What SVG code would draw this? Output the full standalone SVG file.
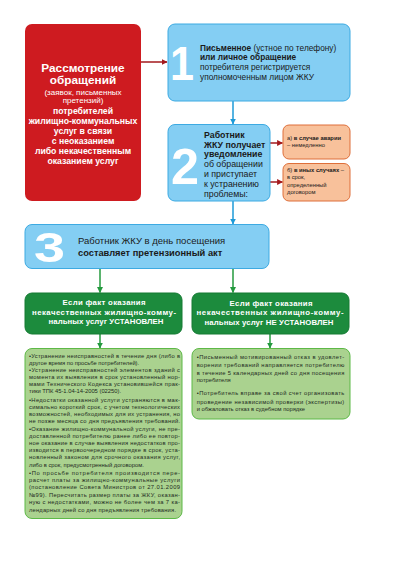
<svg xmlns="http://www.w3.org/2000/svg" width="403" height="570" viewBox="0 0 403 570">
<style>
text{font-family:"Liberation Sans",Arial,sans-serif}
.b{font-weight:bold}
.red{fill:#CE1B20}
.blue{fill:#84CEF3;stroke:#3DAAE2;stroke-width:1}
.org{fill:#F8C19B;stroke:#DE6F3A;stroke-width:1}
.dg{fill:#1C8B3D;stroke:#147A33;stroke-width:1}
.lg{fill:#AAD28F;stroke:#5DB947;stroke-width:1}
.num{fill:#fff;font-weight:bold}
.w{fill:#fff}
.t{fill:#1a1a1a}
.body{fill:#1e2a1e;font-size:5.8px}
.cb{stroke:#1E9AD7;stroke-width:1.5;fill:none}
.cr{stroke:#A3191D;stroke-width:1.5;fill:none}
.cg{stroke:#249A3E;stroke-width:1.5;fill:none}
</style>
<defs>
<marker id="ab" viewBox="0 0 10 10" refX="9" refY="5" markerWidth="4" markerHeight="4" orient="auto" markerUnits="strokeWidth"><path d="M0,0L10,5L0,10z" fill="#1E9AD7"/></marker>
<marker id="ar" viewBox="0 0 10 10" refX="9" refY="5" markerWidth="4" markerHeight="4" orient="auto" markerUnits="strokeWidth"><path d="M0,0L10,5L0,10z" fill="#A3191D"/></marker>
<marker id="ag" viewBox="0 0 10 10" refX="9" refY="5" markerWidth="4" markerHeight="4" orient="auto" markerUnits="strokeWidth"><path d="M0,0L10,5L0,10z" fill="#249A3E"/></marker>
</defs>
<rect width="403" height="570" fill="#fff"/>

<g id="connectors">
<path class="cr" d="M141,62H167" marker-end="url(#ar)"/>
<path class="cb" d="M233,101V124" marker-end="url(#ab)"/>
<path class="cr" d="M270,143H282.5" marker-end="url(#ar)"/>
<path class="cr" d="M270,182H282.5" marker-end="url(#ar)"/>
<path class="cb" d="M233,201V224" marker-end="url(#ab)"/>
<path class="cg" d="M100,268V292.5" marker-end="url(#ag)"/>
<path class="cg" d="M233,268V292.5" marker-end="url(#ag)"/>
<path class="cg" d="M100,334V348" marker-end="url(#ag)"/>
<path class="cg" d="M270,334V348" marker-end="url(#ag)"/>
</g>

<g id="node-review">
<rect class="red" x="25" y="24" width="116" height="177" rx="7"/>
<g class="w" text-anchor="middle">
<text x="83" y="71.5" class="b" font-size="11.8">Рассмотрение</text>
<text x="83" y="84" class="b" font-size="11.8">обращений</text>
<text x="83" y="94.8" font-size="8">(заявок, письменных</text>
<text x="83" y="103.3" font-size="8">претензий)</text>
<text x="83" y="114" class="b" font-size="8.7">потребителей</text>
<text x="83" y="124" class="b" font-size="8.7">жилищно-коммунальных</text>
<text x="83" y="134" class="b" font-size="8.7">услуг в связи</text>
<text x="83" y="144" class="b" font-size="8.7">с неоказанием</text>
<text x="83" y="154" class="b" font-size="8.7">либо некачественным</text>
<text x="83" y="164" class="b" font-size="8.7">оказанием услуг</text>
</g>
</g>

<g id="node-step1">
<rect class="blue" x="168" y="24" width="182" height="77" rx="7"/>
<text class="num" x="170" y="80" font-size="48" textLength="24" lengthAdjust="spacingAndGlyphs">1</text>
<g class="t" font-size="8.3">
<text x="200" y="50.6"><tspan class="b">Письменное</tspan> (устное по телефону)</text>
<text x="200" y="60.2" class="b">или личное обращение</text>
<text x="200" y="69.9">потребителя регистрируется</text>
<text x="200" y="79.6">уполномоченным лицом ЖКУ</text>
</g>
</g>

<g id="node-step2">
<rect class="blue" x="168" y="124.5" width="102" height="76.5" rx="7"/>
<text class="num" x="171" y="183.5" font-size="50" textLength="28" lengthAdjust="spacingAndGlyphs">2</text>
<g class="t" font-size="8.8">
<text x="204" y="138" class="b">Работник</text>
<text x="204" y="147.5" class="b">ЖКУ получает</text>
<text x="204" y="157.3" class="b">уведомление</text>
<text x="204" y="167.3">об обращении</text>
<text x="204" y="177.3">и приступает</text>
<text x="204" y="187.3">к устранению</text>
<text x="204" y="197">проблемы:</text>
</g>
</g>

<g id="node-case-a">
<rect class="org" x="283" y="125" width="67" height="34" rx="6"/>
<g class="t" font-size="5.8">
<text x="287" y="140.3">а) <tspan class="b">в случае аварии</tspan></text>
<text x="287" y="147.3">– немедленно</text>
</g>
</g>

<g id="node-case-b">
<rect class="org" x="283" y="163.5" width="67" height="37.5" rx="6"/>
<g class="t" font-size="5.8">
<text x="287" y="172">б) <tspan class="b">в иных случаях</tspan> –</text>
<text x="287" y="179.3">в срок,</text>
<text x="287" y="187">определенный</text>
<text x="287" y="193.7">договором</text>
</g>
</g>

<g id="node-step3">
<rect class="blue" x="25" y="224.5" width="244" height="44" rx="7"/>
<text class="num" x="34" y="262" font-size="42" textLength="31" lengthAdjust="spacingAndGlyphs">3</text>
<g class="t" font-size="9.5">
<text x="78" y="244.3">Работник ЖКУ в день посещения</text>
<text x="78" y="256" class="b" font-size="9.3">составляет претензионный акт</text>
</g>
</g>

<g id="node-established">
<rect class="dg" x="25" y="293" width="157" height="41" rx="7"/>
<g class="w b" font-size="7.8" text-anchor="middle">
<text x="104" y="305" textLength="83">Если факт оказания</text>
<text x="104" y="314.5" textLength="144">некачественных жилищно-комму-</text>
<text x="106" y="324" textLength="115">нальных услуг УСТАНОВЛЕН</text>
</g>
</g>

<g id="node-not-established">
<rect class="dg" x="192" y="293" width="157" height="41" rx="7"/>
<g class="w b" font-size="7.8" text-anchor="middle">
<text x="271" y="305.5" textLength="83">Если факт оказания</text>
<text x="270" y="314.8" textLength="147">некачественных жилищно-комму-</text>
<text x="269" y="324.5" textLength="129">нальных услуг НЕ УСТАНОВЛЕН</text>
</g>
</g>

<g id="node-actions-established">
<rect class="lg" x="25" y="348.5" width="157" height="170" rx="7"/>
<g class="body">
<text x="29" y="358" textLength="151" lengthAdjust="spacing">•Устранение неисправностей в течение дня (либо в</text>
<text x="29" y="365.3">другое время по просьбе потребителей).</text>
<text x="29" y="372" textLength="151" lengthAdjust="spacing">•Устранение неисправностей элементов зданий с</text>
<text x="29" y="379" textLength="151" lengthAdjust="spacing">момента их выявления в срок установленный нор-</text>
<text x="29" y="386" textLength="151" lengthAdjust="spacing">мами Технического Кодекса установившейся прак-</text>
<text x="29" y="393">тики ТПК 45-1.04-14-2005 (02250).</text>
<text x="29" y="401.5" textLength="151" lengthAdjust="spacing">•Недостатки оказанной услуги устраняются в мак-</text>
<text x="29" y="409" textLength="151" lengthAdjust="spacing">симально короткий срок, с учетом технологических</text>
<text x="29" y="416" textLength="151" lengthAdjust="spacing">возможностей, необходимых для их устранения, но</text>
<text x="29" y="423" textLength="151" lengthAdjust="spacing">не позже месяца со дня предъявления требований.</text>
<text x="29" y="430.7" textLength="151" lengthAdjust="spacing">•Оказание жилищно-коммунальной услуги, не пре-</text>
<text x="29" y="438" textLength="151" lengthAdjust="spacing">доставленной потребителю ранее либо ее повтор-</text>
<text x="29" y="445" textLength="151" lengthAdjust="spacing">ное оказание в случае выявления недостатков про-</text>
<text x="29" y="452" textLength="151" lengthAdjust="spacing">изводится в первоочередном порядке в срок, уста-</text>
<text x="29" y="459.3" textLength="151" lengthAdjust="spacing">новленный законом для срочного оказания услуг,</text>
<text x="29" y="467">либо в срок, предусмотренный договором.</text>
<text x="29" y="474.7" textLength="151" lengthAdjust="spacing">•По просьбе потребителя производится пере-</text>
<text x="29" y="482" textLength="151" lengthAdjust="spacing">расчет платы за жилищно-коммунальные услуги</text>
<text x="29" y="489" textLength="151" lengthAdjust="spacing">(постановление Совета Министров от 27.01.2009</text>
<text x="29" y="496.7" textLength="151" lengthAdjust="spacing">№99). Пересчитать размер платы за ЖКУ, оказан-</text>
<text x="29" y="504" textLength="151" lengthAdjust="spacing">ную с недостатками, можно не более чем за 7 ка-</text>
<text x="29" y="512" textLength="147" lengthAdjust="spacing">лендарных дней со дня предъявления требования.</text>
</g>
</g>

<g id="node-actions-not-established">
<rect class="lg" x="192" y="348.5" width="158" height="70.5" rx="7"/>
<g class="body">
<text x="196.7" y="359.3" textLength="147.6" lengthAdjust="spacing">•Письменный мотивированный отказ в удовлет-</text>
<text x="196.7" y="367" textLength="147.6" lengthAdjust="spacing">ворении требований направляется потребителю</text>
<text x="196.7" y="374.7" textLength="147.6" lengthAdjust="spacing">в течение 5 календарных дней со дня посещения</text>
<text x="196.7" y="382">потребителя</text>
<text x="196.7" y="395.3" textLength="147.6" lengthAdjust="spacing">•Потребитель вправе за свой счет организовать</text>
<text x="196.7" y="403.7" textLength="147.6" lengthAdjust="spacing">проведение независимой проверки (экспертизы)</text>
<text x="196.7" y="411.3">и обжаловать отказ в судебном порядке</text>
</g>
</g>
</svg>
